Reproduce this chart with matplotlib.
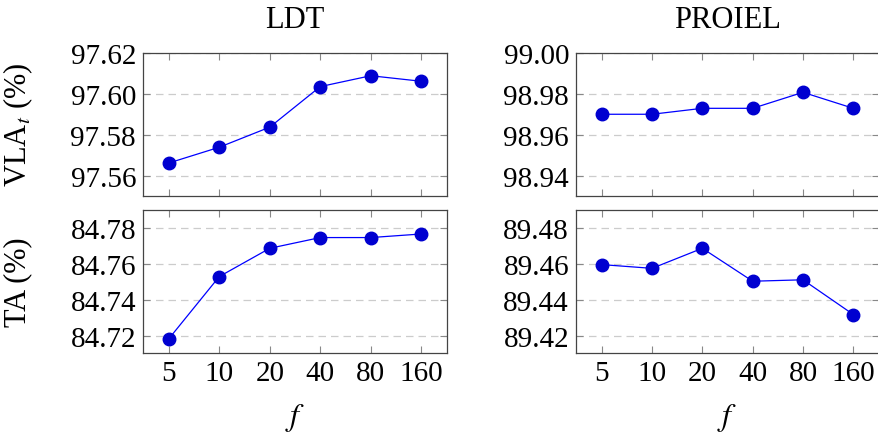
import matplotlib
matplotlib.use("Agg")
from matplotlib import pyplot as plt

plt.rcParams["font.family"] = ["Liberation Serif", "DejaVu Serif"]
plt.rcParams["mathtext.fontset"] = "stix"

f_values = ["5", "10", "20", "40", "80", "160"]
ldt_vla = [97.5663, 97.5740, 97.5838, 97.6036, 97.6089, 97.6062]
proiel_vla = [98.9701, 98.9701, 98.9730, 98.9730, 98.9808, 98.9730]
ldt_ta = [84.7182, 84.7530, 84.7688, 84.7748, 84.7748, 84.7768]
proiel_ta = [89.4597, 89.4576, 89.4688, 89.4504, 89.4512, 89.4318]

vla_ticks_ldt = [97.56, 97.58, 97.60, 97.62]
vla_ticks_proiel = [98.94, 98.96, 98.98, 99.00]
ta_ticks_ldt = [84.72, 84.74, 84.76, 84.78]
ta_ticks_proiel = [89.42, 89.44, 89.46, 89.48]

fig = plt.figure(figsize=(8.79, 4.39), dpi=100)

W, H = 879, 439
def box(x0, x1, y0, y1):
    return [x0 / W, 1 - y1 / H, (x1 - x0) / W, (y1 - y0) / H]

panels = [
    (box(143, 447, 54, 197), ldt_vla, vla_ticks_ldt, (97.5502, 97.62), False),
    (box(576, 879, 54, 197), proiel_vla, vla_ticks_proiel, (98.9302, 99.00), False),
    (box(143, 447, 211, 354), ldt_ta, ta_ticks_ldt, (84.7103, 84.7902), True),
    (box(576, 879, 211, 354), proiel_ta, ta_ticks_proiel, (89.4103, 89.4902), True),
]

x = list(range(len(f_values)))
axes = []
for rect, vals, yt, yl, bottom in panels:
    ax = fig.add_axes(rect)
    ax.plot(x, vals, color="blue", linewidth=0.9, marker="o", markersize=9,
            markerfacecolor="#0000d0", markeredgecolor="#0000d0", zorder=3)
    ax.set_xlim(-0.51, 5.51)
    ax.set_ylim(*yl)
    ax.set_xticks(x)
    ax.set_yticks(yt)
    ax.set_yticklabels([f"{v:.2f}" for v in yt])
    if bottom:
        ax.set_xticklabels(f_values)
    else:
        ax.set_xticklabels([])
    ax.grid(axis="y", color="#cccccc", linestyle=(0, (6, 4)), linewidth=0.9)
    ax.set_axisbelow(True)
    ax.tick_params(direction="in", length=5, width=0.8, color="#888888",
                   top=True, right=True, labelsize=21, pad=5)
    for s in ax.spines.values():
        s.set_color("#444444")
        s.set_linewidth(0.9)
    axes.append(ax)

axes[0].set_title("LDT", fontsize=22, pad=19)
axes[1].set_title("PROIEL", fontsize=22, pad=19)

fig.text(18 / W, 1 - 125 / H, r"VLA$_t$ (%)", rotation=90, fontsize=22,
         ha="center", va="center")
fig.text(18 / W, 1 - 282 / H, "TA (%)", rotation=90, fontsize=22,
         ha="center", va="center")
fig.text(295 / W, 1 - 418 / H, r"$f$", fontsize=23, ha="center", va="center")
fig.text(727 / W, 1 - 418 / H, r"$f$", fontsize=23, ha="center", va="center")

fig.savefig("out.png", dpi=100)
